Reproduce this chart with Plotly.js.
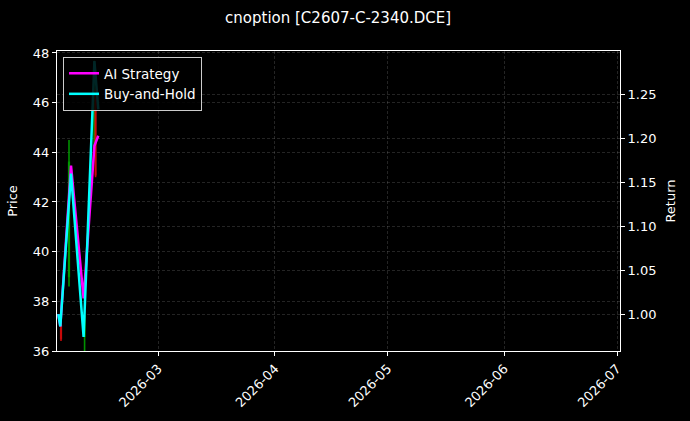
<!DOCTYPE html>
<html>
<head>
<meta charset="utf-8">
<script src="https://cdn.plot.ly/plotly-3.0.1.min.js"></script>
<style>
  html, body { margin: 0; padding: 0; background: #000; }
  #chart { width: 690px; height: 421px; }
</style>
</head>
<body>
<div id="chart"></div>
<script>
// return curves (right axis)
var lineDates = ["2026-02-02 09:00", "2026-02-02 21:50", "2026-02-05 18:10",
                 "2026-02-09 02:35", "2026-02-11 23:35", "2026-02-13 00:25"];
var aiStrategy = [1.000, 0.986, 1.169, 1.018, 1.1915, 1.203];
var buyHold    = [1.000, 0.986, 1.160, 0.974, 1.288, 1.233];

// candles (left axis)
var candleDates = ["2026-02-03 02:15", "2026-02-05 05:20", "2026-02-09 08:55",
                   "2026-02-11 22:50", "2026-02-12 07:00"];
var openP  = [37.0, 39.0, 36.6, 44.0, 46.4];
var highP  = [37.2, 44.5, 37.6, 47.7, 46.6];
var lowP   = [36.4, 38.6, 35.4, 43.8, 43.0];
var closeP = [36.5, 43.6, 37.4, 47.2, 43.1];

var monthTicks = ["2026-03-01", "2026-04-01", "2026-05-01", "2026-06-01", "2026-07-01"];
var monthLabels = ["2026-03", "2026-04", "2026-05", "2026-06", "2026-07"];
var returnTicks = [1.00, 1.05, 1.10, 1.15, 1.20, 1.25];

var fontFam = "DejaVu Sans, sans-serif";
var gridCol = "rgba(128,128,128,0.4)";

var traces = [
  {
    type: "candlestick",
    x: candleDates, open: openP, high: highP, low: lowP, close: closeP,
    yaxis: "y",
    increasing: { line: { color: "rgba(0,170,0,0.85)", width: 1.6 }, fillcolor: "rgba(0,170,0,0.85)" },
    decreasing: { line: { color: "rgba(215,10,10,0.9)", width: 1.6 }, fillcolor: "rgba(215,10,10,0.9)" },
    showlegend: false,
    hoverinfo: "skip"
  },
  {
    type: "scatter", mode: "lines",
    x: lineDates, y: aiStrategy, yaxis: "y2",
    name: "AI Strategy",
    line: { color: "#ff00ff", width: 2.5 }
  },
  {
    type: "scatter", mode: "lines",
    x: lineDates, y: buyHold, yaxis: "y2",
    name: "Buy-and-Hold",
    line: { color: "#00ffff", width: 2.5 }
  }
];

var layout = {
  width: 690, height: 421,
  margin: { l: 57, r: 70, t: 51, b: 70, pad: 0 },
  paper_bgcolor: "#000", plot_bgcolor: "#000",
  font: { family: fontFam, size: 13, color: "#fff" },
  title: {
    text: "cnoption [C2607-C-2340.DCE]",
    font: { family: fontFam, size: 15, color: "#fff" },
    x: 0.49, xanchor: "center", y: 1 - 18 / 421, yanchor: "middle", yref: "container"
  },
  showlegend: true,
  legend: {
    x: 0.0107, y: 0.98, xanchor: "left", yanchor: "top",
    bgcolor: "rgba(0,0,0,0.85)", bordercolor: "#cccccc", borderwidth: 1,
    font: { family: fontFam, size: 13.5, color: "#fff" },
    itemwidth: 30, tracegroupgap: 0
  },
  xaxis: {
    type: "date",
    range: ["2026-02-02 00:45", "2026-07-01 19:00"],
    tickmode: "array", tickvals: monthTicks, ticktext: monthLabels,
    tickangle: -45,
    ticks: "outside", ticklen: 4, tickcolor: "#fff", tickwidth: 1,
    showline: true, linecolor: "#fff", linewidth: 1, mirror: true,
    showgrid: true, gridcolor: gridCol, griddash: "3px,2px", gridwidth: 0.7,
    rangeslider: { visible: false },
    zeroline: false,
    tickfont: { family: fontFam, size: 13, color: "#fff" }
  },
  yaxis: {
    range: [36, 48.08],
    dtick: 2, tick0: 36,
    title: { text: "Price", font: { family: fontFam, size: 13, color: "#fff" }, standoff: 12 },
    ticks: "outside", ticklen: 4, tickcolor: "#fff",
    showline: true, linecolor: "#fff", linewidth: 1,
    showgrid: true, gridcolor: gridCol, griddash: "3px,2px", gridwidth: 0.7,
    zeroline: false,
    tickfont: { family: fontFam, size: 13, color: "#fff" }
  },
  yaxis2: {
    overlaying: "y", side: "right",
    range: [0.958, 1.2995],
    tickmode: "array", tickvals: returnTicks, tickformat: ".2f",
    title: { text: "Return", font: { family: fontFam, size: 13, color: "#fff" }, standoff: 10 },
    ticks: "outside", ticklen: 4, tickcolor: "#fff",
    showline: true, linecolor: "#fff", linewidth: 1,
    showgrid: true, gridcolor: gridCol, griddash: "3px,2px", gridwidth: 0.7,
    zeroline: false,
    tickfont: { family: fontFam, size: 13, color: "#fff" }
  }
};

Plotly.newPlot("chart", traces, layout, { displayModeBar: false, staticPlot: true });
</script>
</body>
</html>
